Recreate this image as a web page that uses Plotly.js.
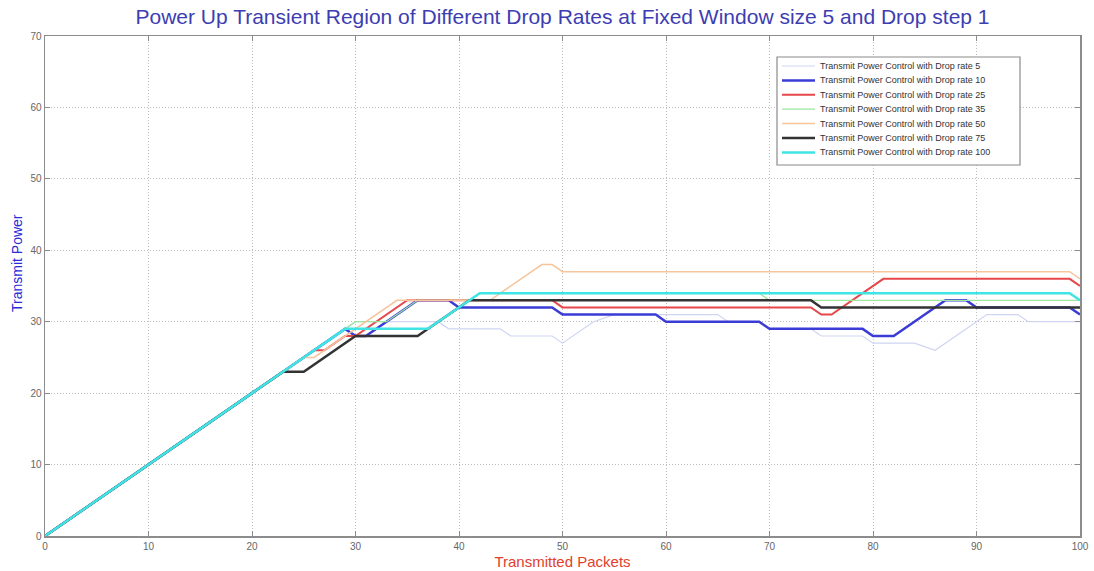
<!DOCTYPE html>
<html>
<head>
<meta charset="utf-8">
<script src="https://cdn.plot.ly/plotly-3.0.1.min.js"></script>
<style>
  html, body { margin: 0; padding: 0; background: #fff; }
  #chart { width: 1094px; height: 571px; }
</style>
</head>
<body>
<div id="chart"></div>
<script>
// Transmit power vs. transmitted packets for each drop rate
const rate5X   = [0, 30, 38, 39, 44, 45, 49, 50, 53, 55, 65, 66, 69, 70, 74, 75, 79, 80, 84, 86, 90, 91, 94, 95, 100];
const rate5Y   = [0, 30, 30, 29, 29, 28, 28, 27, 30, 31, 31, 30, 30, 29, 29, 28, 28, 27, 27, 26, 30, 31, 31, 30, 30];

const rate10X  = [0, 29, 30, 31, 36, 39, 40, 49, 50, 59, 60, 69, 70, 79, 80, 82, 87, 89, 90, 99, 100];
const rate10Y  = [0, 29, 28, 28, 33, 33, 32, 32, 31, 31, 30, 30, 29, 29, 28, 28, 33, 33, 32, 32, 31];

const rate25X  = [0, 26, 27, 29, 30, 35, 49, 50, 74, 75, 76, 81, 99, 100];
const rate25Y  = [0, 26, 26, 28, 28, 33, 33, 32, 32, 31, 31, 36, 36, 35];

const rate35X  = [0, 30, 33, 36, 41, 42, 69, 70, 100];
const rate35Y  = [0, 30, 30, 33, 33, 34, 34, 33, 33];

const rate50X  = [0, 25, 26, 34, 43, 48, 49, 50, 99, 100];
const rate50Y  = [0, 25, 25, 33, 33, 38, 38, 37, 37, 36];

const rate75X  = [0, 23, 25, 30, 36, 41, 74, 75, 100];
const rate75Y  = [0, 23, 23, 28, 28, 33, 33, 32, 32];

const rate100X = [0, 29, 37, 42, 99, 100];
const rate100Y = [0, 29, 29, 34, 34, 33];

const seriesNames = [
  'Transmit Power Control with Drop rate 5',
  'Transmit Power Control with Drop rate 10',
  'Transmit Power Control with Drop rate 25',
  'Transmit Power Control with Drop rate 35',
  'Transmit Power Control with Drop rate 50',
  'Transmit Power Control with Drop rate 75',
  'Transmit Power Control with Drop rate 100'
];
const seriesX = [rate5X, rate10X, rate25X, rate35X, rate50X, rate75X, rate100X];
const seriesY = [rate5Y, rate10Y, rate25Y, rate35Y, rate50Y, rate75Y, rate100Y];
const seriesColors = ['#cfd5f2', '#3b3bd6', '#e5474a', '#9ee69e', '#f6c59c', '#333333', '#3fe4e4'];
const seriesWidths = [1.2, 2.5, 2, 1.3, 1.5, 2.5, 2.5];

const xTicks = [0, 10, 20, 30, 40, 50, 60, 70, 80, 90, 100];
const yTicks = [0, 10, 20, 30, 40, 50, 60, 70];

const W = 1094, H = 571;
const M = { l: 45, r: 14, t: 36, b: 35 };
const plotW = W - M.l - M.r, plotH = H - M.t - M.b;
const px2x = p => (p - M.l) / plotW;
const px2y = p => (H - M.b - p) / plotH;

const traces = seriesNames.map((name, i) => ({
  type: 'scatter',
  mode: 'lines',
  name: name,
  x: seriesX[i],
  y: seriesY[i],
  line: { color: seriesColors[i], width: seriesWidths[i] },
  showlegend: false,
  hoverinfo: 'x+y+name'
}));

// Boxed key in the upper right of the axes
const shapes = [];
const annotations = [];
const keyLeft = 777, keyRight = 1020, keyTop = 57, keyBottom = 165;
const rowTop = 66, rowStep = 14.4;
shapes.push({
  type: 'rect', xref: 'paper', yref: 'paper',
  x0: px2x(keyLeft), x1: px2x(keyRight), y0: px2y(keyBottom), y1: px2y(keyTop),
  fillcolor: '#ffffff', line: { color: '#8a8a8a', width: 1.2 }, layer: 'above'
});
seriesNames.forEach((name, i) => {
  const py = rowTop + i * rowStep;
  shapes.push({
    type: 'line', xref: 'paper', yref: 'paper',
    x0: px2x(782), x1: px2x(815), y0: px2y(py), y1: px2y(py),
    line: { color: seriesColors[i], width: seriesWidths[i] }, layer: 'above'
  });
  annotations.push({
    xref: 'paper', yref: 'paper', x: px2x(818), y: px2y(py),
    xanchor: 'left', yanchor: 'middle', showarrow: false,
    text: name, font: { family: 'Liberation Sans, Arial, sans-serif', size: 9, color: '#333333' }
  });
});

// Vertical axis label
annotations.push({
  xref: 'paper', yref: 'paper', x: px2x(17), y: px2y(263),
  xanchor: 'center', yanchor: 'middle', showarrow: false, textangle: -90,
  text: 'Transmit Power',
  font: { family: 'Liberation Sans, Arial, sans-serif', size: 14, color: '#2a2ad6' }
});

const axisCommon = {
  showline: true, linecolor: '#8c8c8c', linewidth: 1.5, mirror: 'ticks',
  ticks: 'inside', ticklen: 5, tickcolor: '#8c8c8c', tickwidth: 1,
  showgrid: true, gridcolor: '#bdbdbd', griddash: '1px,2px', gridwidth: 1,
  zeroline: false,
  tickfont: { family: 'Liberation Sans, Arial, sans-serif', size: 10, color: '#666666' }
};

const layout = {
  width: W, height: H,
  margin: M,
  paper_bgcolor: '#ffffff', plot_bgcolor: '#ffffff',
  title: {
    text: 'Power Up Transient Region of Different Drop Rates at Fixed Window size 5 and Drop step 1',
    x: 0.5, xref: 'paper', xanchor: 'center',
    y: 1 - 17 / H, yref: 'container', yanchor: 'middle',
    font: { family: 'Liberation Sans, Arial, sans-serif', size: 21, color: '#3d3db2' }
  },
  xaxis: Object.assign({}, axisCommon, {
    range: [0, 100], tickvals: xTicks, ticktext: xTicks.map(String),
    title: { text: 'Transmitted Packets', standoff: 6,
      font: { family: 'Liberation Sans, Arial, sans-serif', size: 15, color: '#e2402c' } }
  }),
  yaxis: Object.assign({}, axisCommon, {
    range: [0, 70], tickvals: yTicks, ticktext: yTicks.map(String)
  }),
  shapes: shapes,
  annotations: annotations,
  showlegend: false
};

Plotly.newPlot('chart', traces, layout, { staticPlot: true, displayModeBar: false });
</script>
</body>
</html>
